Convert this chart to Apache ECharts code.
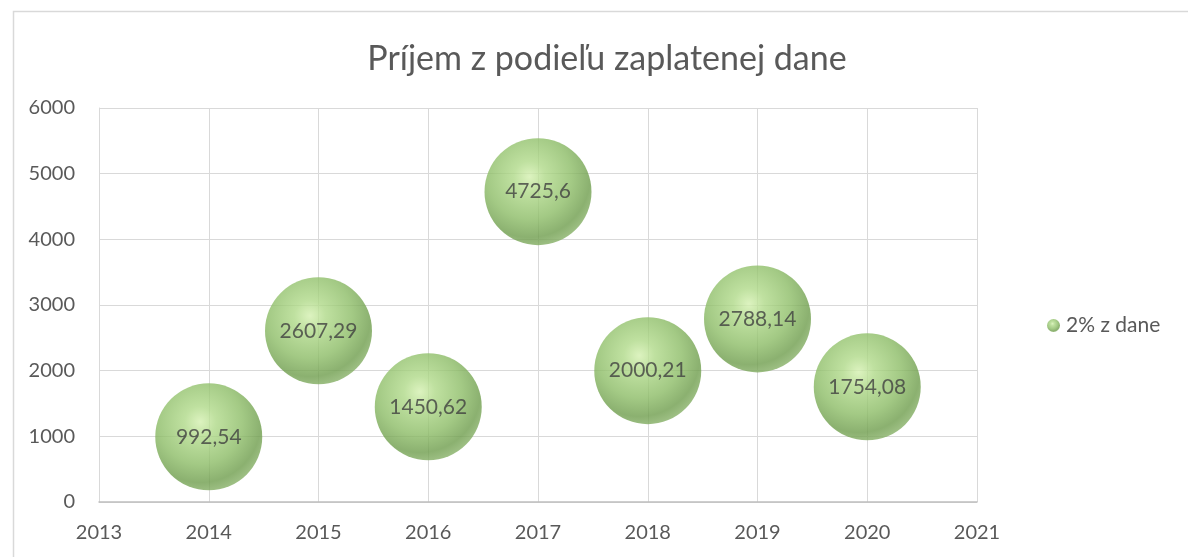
<!DOCTYPE html>
<html>
<head>
<meta charset="utf-8">
<script src="https://cdn.jsdelivr.net/npm/echarts@6/dist/echarts.min.js"></script>
<style>html,body{margin:0;padding:0;background:#fff;}#c{width:1188px;height:557px;}</style>
</head>
<body>
<div id="c"></div>
<script>
const years = [2014, 2015, 2016, 2017, 2018, 2019, 2020];
const values = [992.54, 2607.29, 1450.62, 4725.6, 2000.21, 2788.14, 1754.08];
const labels = ['992,54', '2607,29', '1450,62', '4725,6', '2000,21', '2788,14', '1754,08'];
const seriesName = '2% z dane';
const titleText = 'Príjem z podieľu zaplatenej dane';

const FONT = 'Lato, "Open Sans", sans-serif';
const ballColor = {
  type: 'radial', x: 0.42, y: 0.36, r: 0.66,
  colorStops: [
    {offset: 0, color: '#d4f0b0'},
    {offset: 0.22, color: '#afd988'},
    {offset: 0.6, color: '#8cbc66'},
    {offset: 0.86, color: '#6e9d4c'},
    {offset: 1, color: '#86b066'}
  ]
};
const data = years.map((y, i) => ({value: [y, values[i]], label: labels[i]}));

const chart = echarts.init(document.getElementById('c'));
chart.setOption({
  animation: false,
  backgroundColor: '#fff',
  title: {
    text: titleText, left: 602, top: 37, textAlign: 'center',
    textStyle: {fontFamily: FONT, fontSize: 34, fontWeight: 'normal', color: '#595959'}
  },
  graphic: [{
    type: 'rect', left: 11, top: 9, shape: {width: 1200, height: 600},
    style: {fill: 'none', stroke: '#d9d9d9', lineWidth: 1.5}, silent: true, z: -1
  }],
  legend: {
    left: 1042, top: 310, itemWidth: 13, itemHeight: 13, itemGap: 6, icon: 'circle',
    data: [seriesName],
    textStyle: {fontFamily: FONT, fontSize: 21, color: '#595959', padding: [0, 0, 0, 1]}
  },
  grid: {left: 99, right: 211, top: 108, bottom: 55},
  xAxis: {
    type: 'value', min: 2013, max: 2021, interval: 1,
    axisLine: {show: true, lineStyle: {color: '#bfbfbf', width: 1.5}},
    axisTick: {show: false},
    splitLine: {show: true, lineStyle: {color: '#d9d9d9', width: 1}},
    axisLabel: {fontFamily: FONT, fontSize: 20, color: '#595959', margin: 21, formatter: v => String(v)}
  },
  yAxis: {
    type: 'value', min: 0, max: 6000, interval: 1000,
    axisLine: {show: true, lineStyle: {color: '#d9d9d9', width: 1}},
    axisTick: {show: false},
    splitLine: {show: true, lineStyle: {color: '#d9d9d9', width: 1}},
    axisLabel: {fontFamily: FONT, fontSize: 20, color: '#595959', margin: 24, formatter: v => String(v)}
  },
  series: [{
    name: seriesName, type: 'scatter', symbol: 'circle', symbolSize: 107,
    data: data,
    itemStyle: {color: ballColor},
    label: {
      show: true, position: 'inside',
      formatter: p => p.data.label,
      fontFamily: FONT, fontSize: 21, color: '#404040'
    }
  }]
});
</script>
</body>
</html>
